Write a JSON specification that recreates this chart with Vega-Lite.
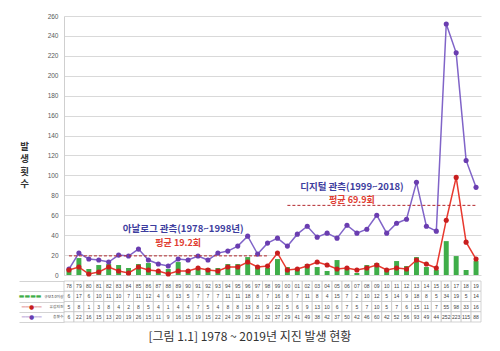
{
  "$schema": "https://vega.github.io/schema/vega-lite/v6.json",
  "background": "white",
  "padding": {"left": 18, "top": 13, "right": 5, "bottom": 4},
  "config": {
    "font": "Noto Sans CJK KR",
    "view": {"stroke": null},
    "concat": {"spacing": 0},
    "axisY": {"labelOverlap": false}
  },
  "datasets": {
    "quake": [
      {"year": "78", "m3": 6, "felt": 5, "total": 6},
      {"year": "79", "m3": 17, "felt": 8, "total": 22},
      {"year": "80", "m3": 6, "felt": 1, "total": 16},
      {"year": "81", "m3": 10, "felt": 3, "total": 15},
      {"year": "82", "m3": 11, "felt": 8, "total": 13},
      {"year": "83", "m3": 10, "felt": 4, "total": 20},
      {"year": "84", "m3": 7, "felt": 2, "total": 19},
      {"year": "85", "m3": 11, "felt": 8, "total": 26},
      {"year": "86", "m3": 12, "felt": 5, "total": 15},
      {"year": "87", "m3": 4, "felt": 4, "total": 11},
      {"year": "88", "m3": 6, "felt": 1, "total": 9},
      {"year": "89", "m3": 13, "felt": 4, "total": 16},
      {"year": "90", "m3": 5, "felt": 4, "total": 15},
      {"year": "91", "m3": 7, "felt": 7, "total": 19},
      {"year": "92", "m3": 7, "felt": 5, "total": 15},
      {"year": "93", "m3": 7, "felt": 4, "total": 22},
      {"year": "94", "m3": 11, "felt": 8, "total": 24},
      {"year": "95", "m3": 11, "felt": 8, "total": 29},
      {"year": "96", "m3": 18, "felt": 13, "total": 39},
      {"year": "97", "m3": 8, "felt": 8, "total": 21},
      {"year": "98", "m3": 7, "felt": 9, "total": 32},
      {"year": "99", "m3": 16, "felt": 22, "total": 37},
      {"year": "00", "m3": 8, "felt": 5, "total": 29},
      {"year": "01", "m3": 7, "felt": 6, "total": 41},
      {"year": "02", "m3": 11, "felt": 9, "total": 49},
      {"year": "03", "m3": 8, "felt": 13, "total": 38},
      {"year": "04", "m3": 4, "felt": 10, "total": 42},
      {"year": "05", "m3": 15, "felt": 6, "total": 37},
      {"year": "06", "m3": 7, "felt": 7, "total": 50},
      {"year": "07", "m3": 2, "felt": 5, "total": 42},
      {"year": "08", "m3": 10, "felt": 7, "total": 46},
      {"year": "09", "m3": 12, "felt": 10, "total": 60},
      {"year": "10", "m3": 5, "felt": 5, "total": 42},
      {"year": "11", "m3": 14, "felt": 7, "total": 52},
      {"year": "12", "m3": 9, "felt": 6, "total": 56},
      {"year": "13", "m3": 18, "felt": 15, "total": 93},
      {"year": "14", "m3": 8, "felt": 11, "total": 49},
      {"year": "15", "m3": 5, "felt": 7, "total": 44},
      {"year": "16", "m3": 34, "felt": 55, "total": 252},
      {"year": "17", "m3": 19, "felt": 98, "total": 223},
      {"year": "18", "m3": 5, "felt": 33, "total": 115},
      {"year": "19", "m3": 14, "felt": 16, "total": 88}
    ],
    "averages": [
      {"period": "analog", "avg": 19.2, "start": "78", "end": "98", "label": "평균 19.2회", "name": "아날로그 관측(1978~1998년)"},
      {"period": "digital", "avg": 69.9, "start": "00", "end": "19", "label": "평균 69.9회", "name": "디지털 관측(1999~2018)"}
    ]
  },
  "title": {
    "text": "[그림 1.1] 1978 ~ 2019년 지진 발생 현황",
    "orient": "bottom",
    "anchor": "middle",
    "fontSize": 12,
    "fontWeight": "normal",
    "color": "#333333",
    "offset": 10,
    "font": "Noto Sans CJK KR"
  },
  "vconcat": [
    {
      "width": 417,
      "height": 259,
      "data": {"name": "quake"},
      "transform": [{"fold": ["m3", "felt", "total"], "as": ["series", "value"]}],
      "encoding": {
        "x": {
          "field": "year",
          "type": "ordinal",
          "sort": null,
          "scale": {
            "type": "band",
            "paddingInner": 0,
            "paddingOuter": 0,
            "domain": ["78","79","80","81","82","83","84","85","86","87","88","89","90","91","92","93","94","95","96","97","98","99","00","01","02","03","04","05","06","07","08","09","10","11","12","13","14","15","16","17","18","19"]
          },
          "axis": null
        }
      },
      "layer": [
        {
          "transform": [{"filter": "datum.series === 'm3'"}],
          "mark": {"type": "bar", "color": "#3fae49", "width": {"band": 0.5}},
          "encoding": {
            "y": {
              "field": "value",
              "type": "quantitative",
              "scale": {"domain": [0, 260]},
              "axis": {
                "values": [0, 20, 40, 60, 80, 100, 120, 140, 160, 180, 200, 220, 240, 260],
                "labelOverlap": false,
                "grid": true,
                "gridColor": "#d9d9d9",
                "gridWidth": 1,
                "domain": true,
                "domainColor": "#cfcfcf",
                "ticks": false,
                "labelFontSize": 6.5,
                "labelColor": "#595959",
                "labelPadding": 6,
                "labelFont": "Liberation Sans",
                "title": ["발", "생", "횟", "수"],
                "titleAngle": 0,
                "titleX": -40,
                "titleY": 130,
                "titleAlign": "center",
                "titleBaseline": "middle",
                "titleFontSize": 9.5,
                "titleFontWeight": "bold",
                "titleLineHeight": 12.5,
                "titleColor": "#333333"
              }
            }
          }
        },
        {
          "transform": [{"filter": "datum.series === 'total'"}],
          "mark": {"type": "line", "color": "#8064c8", "strokeWidth": 1.5},
          "encoding": {"y": {"field": "value", "type": "quantitative", "axis": {"values": [0, 20, 40, 60, 80, 100, 120, 140, 160, 180, 200, 220, 240, 260]}}}
        },
        {
          "transform": [{"filter": "datum.series === 'total'"}],
          "mark": {"type": "point", "filled": true, "color": "#6a3db0", "size": 26, "opacity": 1},
          "encoding": {"y": {"field": "value", "type": "quantitative", "axis": {"values": [0, 20, 40, 60, 80, 100, 120, 140, 160, 180, 200, 220, 240, 260]}}}
        },
        {
          "transform": [{"filter": "datum.series === 'felt'"}],
          "mark": {"type": "line", "color": "#e8392f", "strokeWidth": 1.5},
          "encoding": {"y": {"field": "value", "type": "quantitative", "axis": {"values": [0, 20, 40, 60, 80, 100, 120, 140, 160, 180, 200, 220, 240, 260]}}}
        },
        {
          "transform": [{"filter": "datum.series === 'felt'"}],
          "mark": {"type": "point", "filled": true, "color": "#c81e1e", "size": 26, "opacity": 1},
          "encoding": {"y": {"field": "value", "type": "quantitative", "axis": {"values": [0, 20, 40, 60, 80, 100, 120, 140, 160, 180, 200, 220, 240, 260]}}}
        },
        {
          "data": {"name": "averages"},
          "mark": {"type": "rule", "color": "#b3282d", "strokeDash": [3, 2], "strokeWidth": 1},
          "encoding": {
            "x": {"field": "start", "type": "ordinal"},
            "x2": {"field": "end"},
            "y": {"field": "avg", "type": "quantitative", "axis": {"values": [0, 20, 40, 60, 80, 100, 120, 140, 160, 180, 200, 220, 240, 260]}}
          }
        },
        {
          "data": {"name": "averages"},
          "transform": [{"filter": "datum.period === 'analog'"}],
          "mark": {"type": "text", "color": "#3d3d9e", "fontWeight": "bold", "fontSize": 9.5, "align": "center", "baseline": "middle"},
          "encoding": {
            "x": {"datum": "90", "bandPosition": 0},
            "y": {"datum": 46, "axis": {"values": [0, 20, 40, 60, 80, 100, 120, 140, 160, 180, 200, 220, 240, 260]}},
            "text": {"field": "name"}
          }
        },
        {
          "data": {"name": "averages"},
          "transform": [{"filter": "datum.period === 'analog'"}],
          "mark": {"type": "text", "color": "#e03c31", "fontWeight": "bold", "fontSize": 9, "align": "center", "baseline": "middle"},
          "encoding": {
            "x": {"datum": "89"},
            "y": {"datum": 32, "axis": {"values": [0, 20, 40, 60, 80, 100, 120, 140, 160, 180, 200, 220, 240, 260]}},
            "text": {"field": "label"}
          }
        },
        {
          "data": {"name": "averages"},
          "transform": [{"filter": "datum.period === 'digital'"}],
          "mark": {"type": "text", "color": "#3d3d9e", "fontWeight": "bold", "fontSize": 9.5, "align": "center", "baseline": "middle"},
          "encoding": {
            "x": {"datum": "07", "bandPosition": 0},
            "y": {"datum": 88, "axis": {"values": [0, 20, 40, 60, 80, 100, 120, 140, 160, 180, 200, 220, 240, 260]}},
            "text": {"field": "name"}
          }
        },
        {
          "data": {"name": "averages"},
          "transform": [{"filter": "datum.period === 'digital'"}],
          "mark": {"type": "text", "color": "#e03c31", "fontWeight": "bold", "fontSize": 9, "align": "center", "baseline": "middle"},
          "encoding": {
            "x": {"datum": "07", "bandPosition": 0},
            "y": {"datum": 75, "axis": {"values": [0, 20, 40, 60, 80, 100, 120, 140, 160, 180, 200, 220, 240, 260]}},
            "text": {"field": "label"}
          }
        }
      ]
    },
    {
      "width": 417,
      "height": 41,
      "data": {"name": "quake"},
      "encoding": {
        "x": {
          "field": "year",
          "type": "ordinal",
          "sort": null,
          "scale": {
            "type": "band",
            "paddingInner": 0,
            "paddingOuter": 0,
            "domain": ["78","79","80","81","82","83","84","85","86","87","88","89","90","91","92","93","94","95","96","97","98","99","00","01","02","03","04","05","06","07","08","09","10","11","12","13","14","15","16","17","18","19"]
          },
          "axis": null
        }
      },
      "layer": [
        {
          "mark": {"type": "rect", "fill": "white", "stroke": "#c8c8c8", "strokeWidth": 0.8},
          "encoding": {
            "y": {
              "datum": "hdr",
              "type": "ordinal",
              "scale": {"type": "band", "domain": ["hdr", "m3", "felt", "total"], "paddingInner": 0, "paddingOuter": 0},
              "axis": {
                "orient": "left",
                "offset": 23,
                "ticks": false,
                "domain": false,
                "grid": false,
                "title": null,
                "labelPadding": 0,
                "labelFont": "DejaVu Sans",
                "labelFontSize": 6,
                "labelOverlap": false,
                "labelExpr": "datum.value == 'm3' ? '▬▬▬▬' : (datum.value == 'felt' || datum.value == 'total') ? '──●──' : ''",
                "labelColor": {
                  "condition": [
                    {"test": "datum.value == 'm3'", "value": "#3fae49"},
                    {"test": "datum.value == 'felt'", "value": "#c81e1e"}
                  ],
                  "value": "#6a3db0"
                }
              }
            }
          }
        },
        {
          "mark": {"type": "text", "fontSize": 5, "color": "#444444", "font": "Liberation Sans"},
          "encoding": {
            "y": {
              "datum": "hdr",
              "type": "ordinal",
              "scale": {"type": "band", "domain": ["hdr", "m3", "felt", "total"], "paddingInner": 0, "paddingOuter": 0},
              "axis": null
            },
            "text": {"field": "year"}
          }
        },
        {
          "transform": [{"fold": ["m3", "felt", "total"], "as": ["series", "value"]}],
          "mark": {"type": "rect", "fill": "white", "stroke": "#c8c8c8", "strokeWidth": 0.8},
          "encoding": {
            "y": {
              "field": "series",
              "type": "ordinal",
              "scale": {"type": "band", "domain": ["hdr", "m3", "felt", "total"], "paddingInner": 0, "paddingOuter": 0},
              "axis": {
                "orient": "left",
                "ticks": true,
                "tickBand": "extent",
                "tickSize": 45,
                "tickColor": "#c8c8c8",
                "tickWidth": 0.8,
                "domain": false,
                "grid": false,
                "title": null,
                "labelPadding": -44,
                "labelFontSize": 3.8,
                "labelOverlap": false,
                "labelColor": "#444444",
                "labelExpr": "datum.value == 'm3' ? '규모3.0이상' : datum.value == 'felt' ? '유감지진' : datum.value == 'total' ? '총횟수' : ''"
              }
            }
          }
        },
        {
          "transform": [{"fold": ["m3", "felt", "total"], "as": ["series", "value"]}],
          "mark": {"type": "text", "fontSize": 5, "color": "#444444", "font": "Liberation Sans"},
          "encoding": {
            "y": {
              "field": "series",
              "type": "ordinal",
              "scale": {"type": "band", "domain": ["hdr", "m3", "felt", "total"], "paddingInner": 0, "paddingOuter": 0},
              "axis": null
            },
            "text": {"field": "value", "type": "quantitative"}
          }
        }
      ],
      "resolve": {"scale": {"y": "independent"}, "axis": {"y": "independent"}}
    }
  ]
}
